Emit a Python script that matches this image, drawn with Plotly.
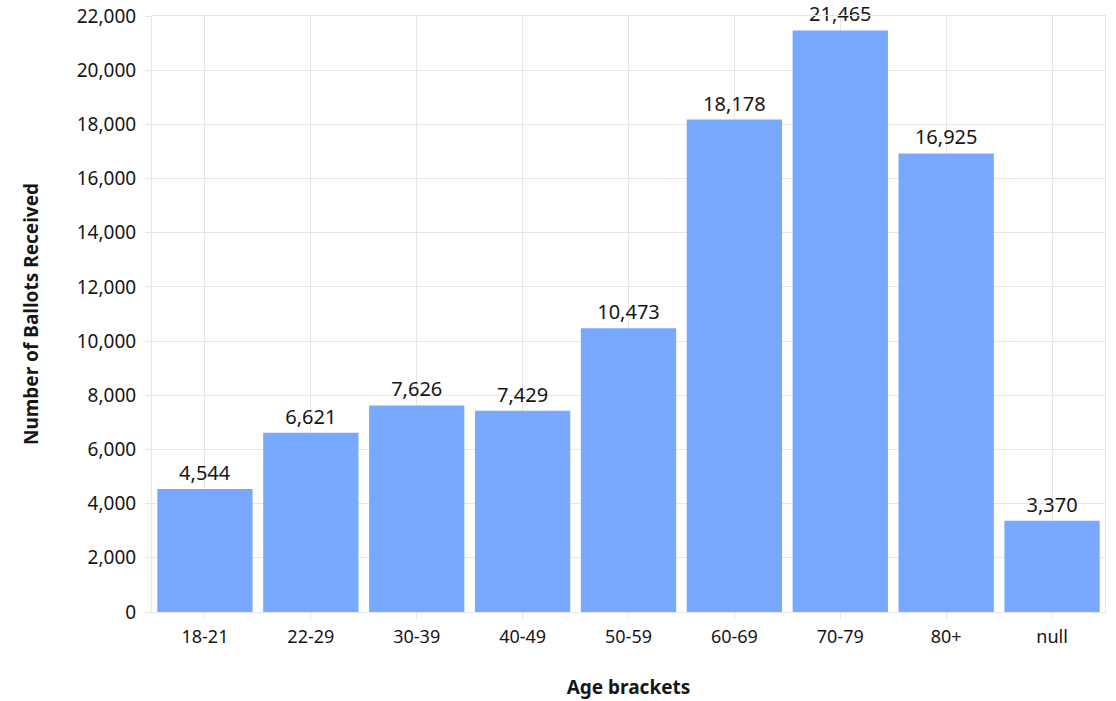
import plotly.graph_objects as go

categories = ["18-21", "22-29", "30-39", "40-49", "50-59", "60-69", "70-79", "80+", "null"]
ballots = [4544, 6621, 7626, 7429, 10473, 18178, 21465, 16925, 3370]
y_ticks = list(range(0, 22001, 2000))

grid = "#e6e6e6"
font_family = "Noto Sans, Open Sans, sans-serif"

fig = go.Figure(go.Bar(
    x=categories,
    y=ballots,
    marker=dict(color="#78a9ff", line=dict(width=0)),
    text=[f"{v:,}" for v in ballots],
    textposition="outside",
    textfont=dict(size=20, color="#161616", family=font_family),
    cliponaxis=False,
))

fig.update_layout(
    width=1116, height=701,
    margin=dict(l=152, r=11, t=16, b=89, autoexpand=False),
    paper_bgcolor="white", plot_bgcolor="white",
    bargap=0.1,
    showlegend=False,
    font=dict(family=font_family, color="#161616"),
)
fig.update_xaxes(
    title=dict(text="<b>Age brackets</b>", font=dict(size=19), standoff=34),
    tickfont=dict(size=18),
    showgrid=True, gridcolor=grid,
    showline=True, linecolor=grid, mirror=True,
    ticks="outside", ticklen=6, tickcolor=grid,
    ticklabelstandoff=2,
    automargin=False,
)
fig.update_yaxes(
    title=dict(text="<b>Number of Ballots Received</b>", font=dict(size=19), standoff=33),
    range=[0, 22000],
    tickvals=y_ticks,
    tickformat=",",
    tickfont=dict(size=19),
    showgrid=True, gridcolor=grid,
    showline=True, linecolor=grid, mirror=True,
    ticks="outside", ticklen=6, tickcolor=grid,
    ticklabelstandoff=5,
    zeroline=False,
    automargin=False,
)

fig.write_html(
    "out.html",
    config={"displayModeBar": False},
    post_script="document.body.style.margin='0';document.body.style.overflow='hidden';",
)
